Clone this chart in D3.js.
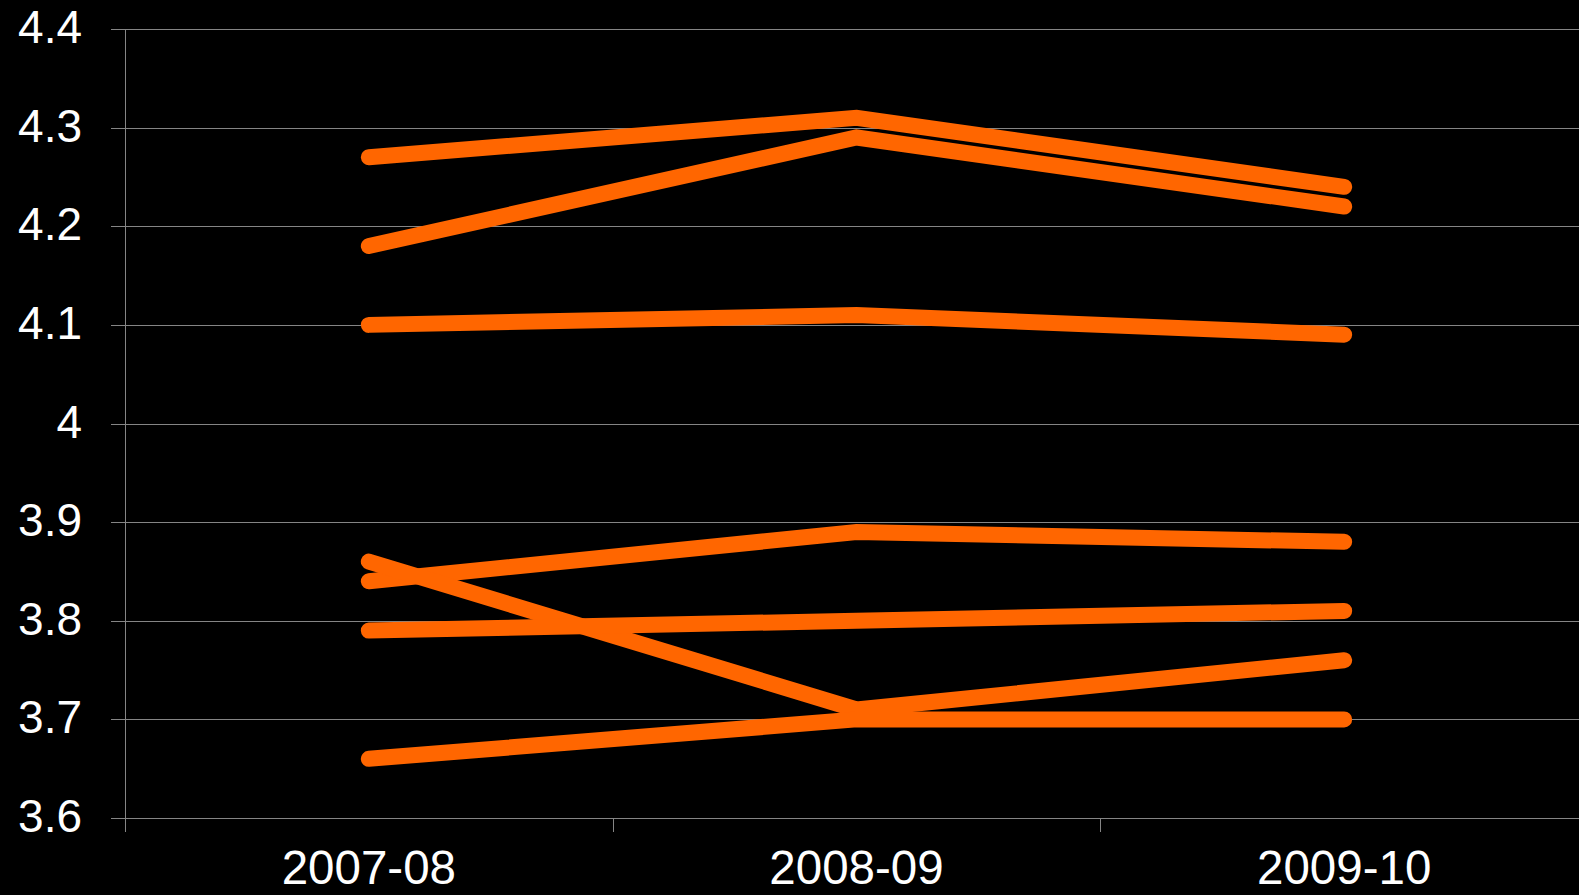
<!DOCTYPE html>
<html>
<head>
<meta charset="utf-8">
<script src="https://cdn.jsdelivr.net/npm/d3@7"></script>
<style>
  html, body { margin: 0; padding: 0; background: #000; overflow: hidden; }
  svg { display: block; }
  text { font-family: "Liberation Sans", Arial, sans-serif; fill: #fff; }
</style>
</head>
<body>
<svg id="chart" width="1579" height="895"></svg>
<script>
// School years on the x axis
const years = ["2007-08", "2008-09", "2009-10"];

// One array per series, one value per school year
const seriesA = [4.27, 4.31, 4.24];
const seriesB = [4.18, 4.29, 4.22];
const seriesC = [4.10, 4.11, 4.09];
const seriesD = [3.84, 3.89, 3.88];
const seriesE = [3.86, 3.71, 3.76];
const seriesF = [3.79, 3.80, 3.81];
const seriesG = [3.66, 3.70, 3.70];
const allSeries = [seriesA, seriesB, seriesC, seriesD, seriesE, seriesF, seriesG];

// Y axis ticks
const yTicks = [3.6, 3.7, 3.8, 3.9, 4.0, 4.1, 4.2, 4.3, 4.4];
const yTickLabels = ["3.6", "3.7", "3.8", "3.9", "4", "4.1", "4.2", "4.3", "4.4"];

(function () {
  const svg = d3.select("#chart");
  const W = 1579, H = 895;
  const plotLeft = 125, plotTop = 29, plotBottom = 818;
  const bandRight = 1588;

  svg.append("rect").attr("width", W).attr("height", H).attr("fill", "#000");

  const x = d3.scaleBand().domain(years).range([plotLeft, bandRight]).paddingInner(0).paddingOuter(0);
  const y = d3.scaleLinear().domain([3.6, 4.4]).range([plotBottom, plotTop]);

  const gridColor = "#858585";

  // Horizontal gridlines, with a short tick to the left of the axis
  svg.append("g").selectAll("line").data(yTicks).join("line")
    .attr("x1", plotLeft - 14).attr("x2", W)
    .attr("y1", d => Math.round(y(d)) + 0.5).attr("y2", d => Math.round(y(d)) + 0.5)
    .attr("stroke", gridColor).attr("stroke-width", 1);

  // Vertical axis line
  svg.append("line")
    .attr("x1", plotLeft + 0.5).attr("x2", plotLeft + 0.5)
    .attr("y1", plotTop).attr("y2", plotBottom + 14)
    .attr("stroke", gridColor).attr("stroke-width", 1);

  // Category boundary ticks below the x axis
  const boundaries = years.map(d => x(d)).concat([x(years[years.length - 1]) + x.bandwidth()]);
  svg.append("g").selectAll("line").data(boundaries).join("line")
    .attr("x1", d => Math.round(d) + 0.5).attr("x2", d => Math.round(d) + 0.5)
    .attr("y1", plotBottom).attr("y2", plotBottom + 14)
    .attr("stroke", gridColor).attr("stroke-width", 1);

  // Y tick labels
  svg.append("g").selectAll("text").data(yTicks).join("text")
    .attr("x", 82)
    .attr("y", d => y(d) + 14)
    .attr("text-anchor", "end")
    .attr("font-size", 46)
    .text((d, i) => yTickLabels[i]);

  // X category labels
  svg.append("g").selectAll("text").data(years).join("text")
    .attr("x", d => x(d) + x.bandwidth() / 2)
    .attr("y", 884)
    .attr("text-anchor", "middle")
    .attr("font-size", 47.5)
    .text(d => d);

  // Series lines
  const line = d3.line()
    .x((d, i) => x(years[i]) + x.bandwidth() / 2)
    .y(d => y(d));

  svg.append("g").selectAll("path").data(allSeries).join("path")
    .attr("d", line)
    .attr("fill", "none")
    .attr("stroke", "#ff6600")
    .attr("stroke-width", 16)
    .attr("stroke-linecap", "round")
    .attr("stroke-linejoin", "miter");
})();
</script>
</body>
</html>
